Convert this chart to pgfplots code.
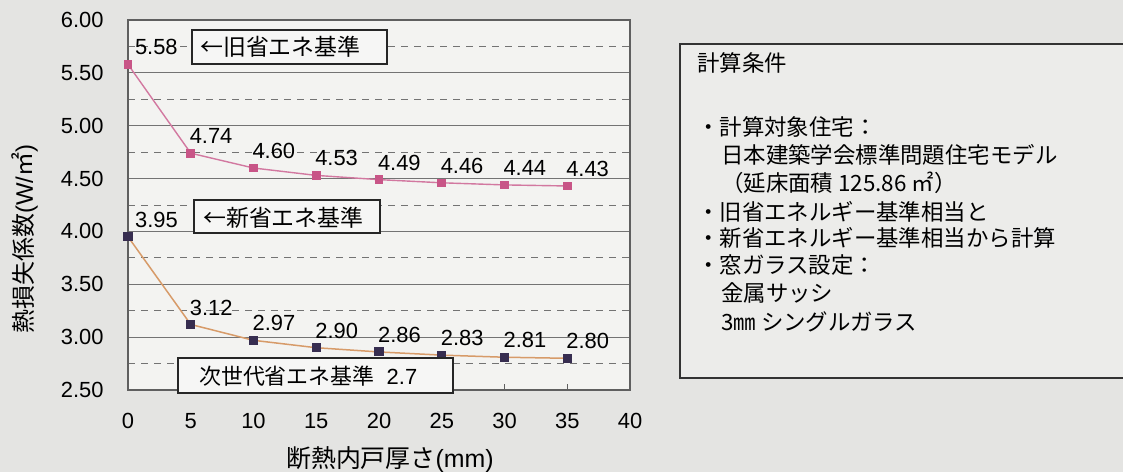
\documentclass[border=0pt]{standalone}
\usepackage{fontspec}
\setmainfont{Liberation Sans}
\newfontfamily\jp{Noto Sans CJK JP}
\usepackage{pgfplots}
\pgfplotsset{compat=1.18}

\definecolor{bgc}{RGB}{228,228,226}
\definecolor{plotbg}{RGB}{243,243,241}
\definecolor{oldc}{RGB}{200,85,135}
\definecolor{oldline}{RGB}{210,120,160}
\definecolor{newm}{RGB}{55,45,80}
\definecolor{newline}{RGB}{215,155,105}
\definecolor{gridc}{RGB}{115,115,115}
\definecolor{axisc}{RGB}{95,95,95}
\definecolor{boxbg}{RGB}{246,246,245}
\definecolor{rboxbg}{RGB}{236,236,234}

\pgfplotstableread{
x y
0 5.58
5 4.74
10 4.60
15 4.53
20 4.49
25 4.46
30 4.44
35 4.43
}\oldtab
\pgfplotstableread{
x y
0 3.95
5 3.12
10 2.97
15 2.90
20 2.86
25 2.83
30 2.81
35 2.80
}\newtab

\begin{document}
\begin{tikzpicture}
\fill[bgc] (0bp,0bp) rectangle (1123bp,-472bp);
\path[use as bounding box] (0bp,0bp) rectangle (1123bp,-472bp);
\begin{axis}[
  at={(128bp,-390bp)}, anchor=south west,
  scale only axis, width=502bp, height=370bp,
  xmin=0, xmax=40, ymin=2.5, ymax=6,
  axis background/.style={fill=plotbg},
  axis line style={draw=axisc, line width=1.2bp},
  xtick={0,5,...,40},
  ytick={2.5,3,3.5,4,4.5,5,5.5,6},
  minor ytick={2.75,3.25,3.75,4.25,4.75,5.25,5.75},
  ymajorgrids, yminorgrids,
  major grid style={draw=gridc, line width=1bp},
  minor grid style={draw=gridc, line width=0.9bp, dash pattern=on 7bp off 6bp},
  xtick pos=bottom, ytick pos=left,
  tick align=inside,
  major tick length=6bp, minor tick length=0pt,
  ytick style={draw=none},
  xtick style={draw=axisc, line width=0.8bp},
  /pgf/number format/assume math mode=true,
  ticklabel style={font=\fontsize{22}{22}\selectfont, text=black},
  y tick label style={/pgf/number format/.cd, fixed, fixed zerofill, precision=2, /tikz/.cd, xshift=-21bp},
  x tick label style={yshift=-20bp},
  point meta=y,
  visualization depends on={\thisrow{x} \as \myx},
  nodes near coords={\pgfmathprintnumber[fixed,fixed zerofill,precision=2]{\pgfplotspointmeta}},
  nodes near coords style={anchor=west, xshift={(\myx<1)*8bp-5bp}, yshift=17bp, font=\fontsize{22}{22}\selectfont, text=black},
]
\addplot[oldline, line width=1.4bp, mark=square*, mark size=3.6bp,
  mark options={fill=oldc, draw=oldc, solid}] table[x=x,y=y] {\oldtab};
\addplot[newline, line width=1.5bp, mark=square*, mark size=3.8bp,
  mark options={fill=newm, draw=newm, solid}] table[x=x,y=y] {\newtab};
\end{axis}
\begin{scope}[x=1bp,y=-1bp]
% annotation boxes
\draw[black!85, line width=2.2bp, fill=boxbg] (192,30) rectangle (387,64);
\node[anchor=west, inner sep=0, font=\jp\fontsize{23}{23}\selectfont] at (200,47) {←旧省エネ基準};
\draw[black!85, line width=2.2bp, fill=boxbg] (194,200) rectangle (380,233);
\node[anchor=west, inner sep=0, font=\jp\fontsize{23}{23}\selectfont] at (203,218) {←新省エネ基準};
\draw[black!85, line width=2.2bp, fill=boxbg] (178,358) rectangle (453,393);
\node[anchor=west, inner sep=0, font=\fontsize{22}{22}\selectfont] at (199,376) {{\jp 次世代省エネ基準}\ \ 2.7};
% axis labels
\node[rotate=90, inner sep=0, font=\fontsize{24}{24}\selectfont] at (25,239) {{\jp 熱損失係数}(W/{\jp ㎡})};
\node[inner sep=0, font=\fontsize{25}{25}\selectfont] at (390,460) {{\jp 断熱内戸厚さ}(mm)};
% right conditions box
\draw[black!80, line width=2bp, fill=rboxbg] (680,44) rectangle (1150,378);
\begin{scope}[every node/.style={anchor=west, inner sep=0, font=\jp\fontsize{22.5}{22.5}\selectfont}]
\node at (697,63) {計算条件};
\node at (697,127) {・計算対象住宅：};
\node at (721,155) {日本建築学会標準問題住宅モデル};
\node at (721,183) {（延床面積 125.86 ㎡）};
\node at (697,212) {・旧省エネルギー基準相当と};
\node at (697,238) {・新省エネルギー基準相当から計算};
\node at (697,265) {・窓ガラス設定：};
\node at (721,293) {金属サッシ};
\node at (721,322) {3㎜ シングルガラス};
\end{scope}
\end{scope}
\end{tikzpicture}
\end{document}
